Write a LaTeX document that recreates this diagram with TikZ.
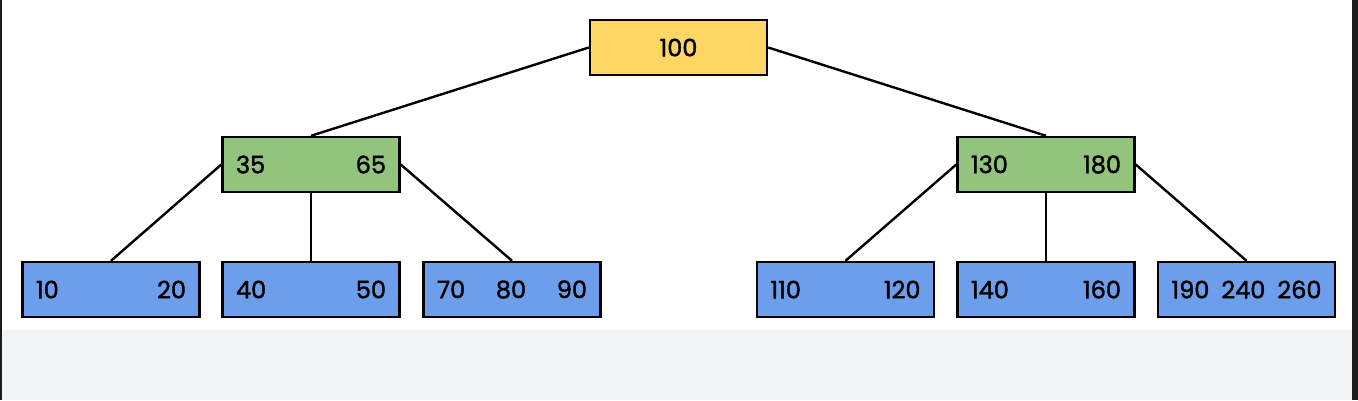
\documentclass[tikz,border=0pt]{standalone}
\usepackage{fontspec}
\setmainfont{Poppins}
\newfontfamily\keyfont{Poppins}[FakeBold=1.6]
\usepackage{tikz}
\usetikzlibrary{positioning}

\definecolor{rootyellow}{HTML}{FDD663}
\definecolor{midgreen}{HTML}{93C47D}
\definecolor{leafblue}{HTML}{6D9EEB}
\definecolor{pagegray}{HTML}{F1F3F4}
\definecolor{framedark}{HTML}{1C1C1C}

\tikzset{
  keybox/.style={draw=black, line width=2.4pt, minimum width=177pt, minimum height=55pt,
    inner sep=0pt, text width=150pt, font=\keyfont\fontsize{24}{28}\selectfont},
  rootnode/.style={keybox, fill=rootyellow, align=center},
  midnode/.style={keybox, fill=midgreen},
  leafnode/.style={keybox, fill=leafblue},
  link/.style={draw=black, line width=2.4pt}
}

\begin{document}
\begin{tikzpicture}[node distance=100pt,on grid]
   % page and frame
   \useasboundingbox (0,0) rectangle (1358pt,-400pt);
   \fill[white] (0,0) rectangle (1358pt,-330pt);
   \fill[pagegray] (0,-330pt) rectangle (1358pt,-400pt);
   \fill[framedark] (0,0) rectangle (2pt,-400pt);
   \fill[framedark] (1352pt,0) rectangle (1358pt,-400pt);

   \node[rootnode] (r) at (678.5pt,-47.5pt) {100};
   \node[midnode] (m_1) [below left=117pt and 367.5pt of r] {35\hfill 65};
   \node[midnode] (m_2) [below right=117pt and 367.5pt of r] {130\hfill 180};
   % leaves under 35 65
   \node[leafnode] (l_1) [below left=125pt and 200pt of m_1] {10\hfill 20};
   \node[leafnode] (l_2) [below=125pt of m_1] {40\hfill 50};
   \node[leafnode] (l_3) [below right=125pt and 201pt of m_1] {70\hfill 80\hfill 90};
   % leaves under 130 180
   \node[leafnode] (l_4) [below left=125pt and 200.5pt of m_2] {110\hfill 120};
   \node[leafnode] (l_5) [below=125pt of m_2] {140\hfill 160};
   \node[leafnode] (l_6) [below right=125pt and 200.5pt of m_2] {190\hfill 240\hfill 260};

   \path[link]
    (r.west) edge (m_1.north)
    (r.east) edge (m_2.north)
    (m_1.west) edge (l_1.north)
    (m_1.south) edge (l_2.north)
    (m_1.east) edge (l_3.north)
    (m_2.west) edge (l_4.north)
    (m_2.south) edge (l_5.north)
    (m_2.east) edge (l_6.north);
\end{tikzpicture}
\end{document}
